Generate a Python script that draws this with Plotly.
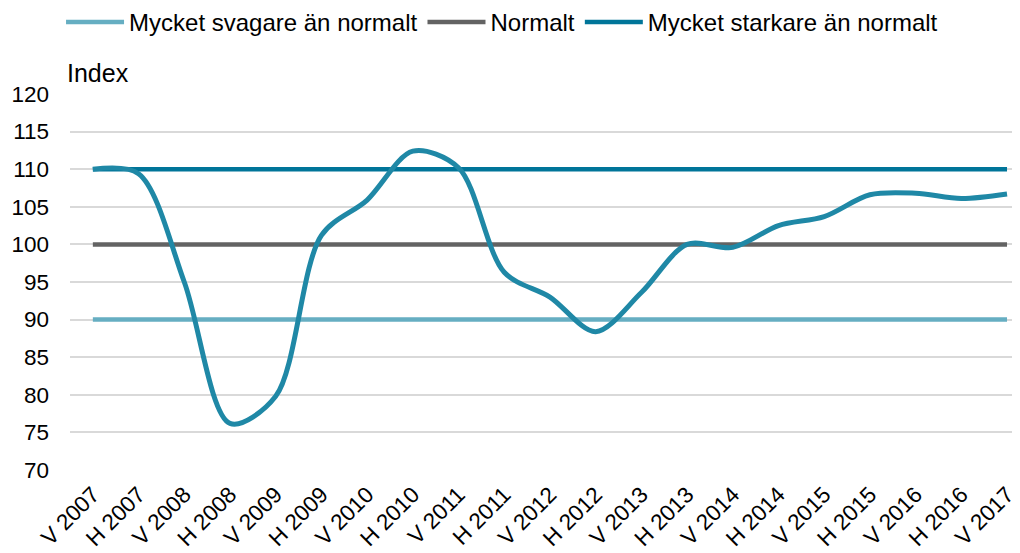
import plotly.graph_objects as go

categories = ["V 2007", "H 2007", "V 2008", "H 2008", "V 2009", "H 2009", "V 2010",
              "H 2010", "V 2011", "H 2011", "V 2012", "H 2012", "V 2013", "H 2013",
              "V 2014", "H 2014", "V 2015", "H 2015", "V 2016", "H 2016", "V 2017"]
index_values = [110.0, 109.4, 95.0, 76.2, 79.8, 101.2, 105.9, 112.4, 110.2, 96.3,
                93.0, 88.4, 93.6, 100.0, 99.6, 102.5, 103.7, 106.6, 106.8, 106.1, 106.7]
weak_level = [90] * len(categories)
normal_level = [100] * len(categories)
strong_level = [110] * len(categories)
y_ticks = [70, 75, 80, 85, 90, 95, 100, 105, 110, 115, 120]

FONT = "Liberation Sans, Arial, sans-serif"

fig = go.Figure()
fig.add_trace(go.Scatter(x=categories, y=weak_level, mode="lines",
                         name="Mycket svagare än normalt",
                         line=dict(color="#66aec2", width=4.5)))
fig.add_trace(go.Scatter(x=categories, y=normal_level, mode="lines",
                         name="Normalt",
                         line=dict(color="#636363", width=4.5)))
fig.add_trace(go.Scatter(x=categories, y=strong_level, mode="lines",
                         name="Mycket starkare än normalt",
                         line=dict(color="#007599", width=4.5)))
fig.add_trace(go.Scatter(x=categories, y=index_values, mode="lines",
                         name="Index", showlegend=False,
                         line=dict(color="#1f88a6", width=5, shape="spline", smoothing=0.9)))

fig.update_layout(
    width=1020, height=553,
    margin=dict(l=62, r=10, t=86, b=91, autoexpand=False),
    paper_bgcolor="white", plot_bgcolor="white",
    font=dict(family=FONT, size=22, color="#000000"),
    showlegend=True,
    legend=dict(orientation="h", xref="container", yref="paper",
                x=0.052, y=1.25, xanchor="left", yanchor="top",
                font=dict(size=24, family=FONT), itemwidth=58,
                tracegroupgap=0, bgcolor="rgba(0,0,0,0)"),
    xaxis=dict(type="category", range=[-0.5, 20.24], tickangle=-45,
               showgrid=False, zeroline=False, showline=False, ticks="",
               automargin=False,
               tickfont=dict(size=22.5, family=FONT), ticklabelstandoff=6),
    yaxis=dict(range=[70, 120], tickvals=y_ticks, showgrid=True,
               gridcolor="#d9d9d9", gridwidth=2, zeroline=False, showline=False,
               automargin=False,
               ticks="", tickfont=dict(size=22.5, family=FONT), ticklabelstandoff=20),
    annotations=[dict(text="Index", xref="paper", yref="paper", x=0, y=1,
                      xanchor="left", yanchor="bottom", yshift=5, xshift=-5,
                      showarrow=False, font=dict(size=25, family=FONT))],
)

fig.write_html("out.html")
